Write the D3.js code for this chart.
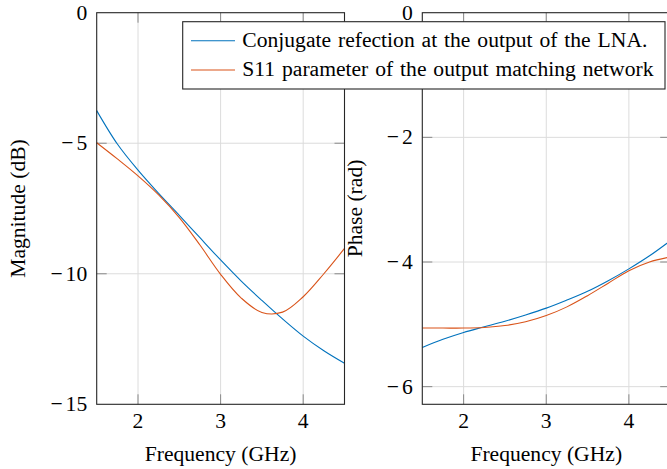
<!DOCTYPE html>
<html>
<head>
<meta charset="utf-8">
<script src="https://cdn.jsdelivr.net/npm/d3@7"></script>
<style>
  html, body { margin: 0; padding: 0; background: #fff; }
  svg { display: block; }
  text { font-family: "Liberation Serif", "Times New Roman", serif; fill: #000; }
</style>
</head>
<body>
<svg id="chart" width="667" height="469"></svg>
<script>
// ---- data ----
const freq = [1.5, 1.75, 2.0, 2.25, 2.5, 2.75, 3.0, 3.25, 3.5, 3.75, 4.0, 4.25, 4.5];
const magConj = [-3.75, -5.03, -6.03, -6.92, -7.76, -8.62, -9.47, -10.28, -11.02, -11.73, -12.39, -12.95, -13.43];
const magS11  = [-4.98, -5.6, -6.25, -6.98, -7.85, -8.9, -10.02, -10.93, -11.48, -11.47, -10.88, -10.0, -9.03];
const phaseConj = [-5.37, -5.24, -5.13, -5.04, -4.95, -4.85, -4.74, -4.61, -4.47, -4.3, -4.11, -3.9, -3.66];
const phaseS11  = [-5.06, -5.06, -5.06, -5.05, -5.02, -4.96, -4.86, -4.72, -4.54, -4.34, -4.14, -4.0, -3.92];
const xTicks = [2, 3, 4];
const magTicks = [0, -5, -10, -15];
const phaseTicks = [0, -2, -4, -6];
const seriesNames = ["Conjugate refection at the output of the LNA.", "S11 parameter of the output matching network"];
const colors = ["#0072bd", "#d95319"];

const svg = d3.select("#chart");
const FONT = 21.6;
const plotTop = 12.7, plotBottom = 404.3;

function panel(x0, x1, yDomain, yTicks, series, ylabel, ylabelX) {
  const x = d3.scaleLinear().domain([1.5, 4.5]).range([x0, x1]);
  const y = d3.scaleLinear().domain(yDomain).range([plotBottom, plotTop]);
  const g = svg.append("g");
  const innerY = yTicks.filter(d => d > yDomain[0] && d < yDomain[1]);
  // grid
  g.selectAll(".gx").data(xTicks).join("line")
    .attr("x1", d => x(d)).attr("x2", d => x(d)).attr("y1", plotTop).attr("y2", plotBottom)
    .attr("stroke", "#dcdcdc").attr("stroke-width", 1);
  g.selectAll(".gy").data(innerY).join("line")
    .attr("x1", x0).attr("x2", x1).attr("y1", d => y(d)).attr("y2", d => y(d))
    .attr("stroke", "#dcdcdc").attr("stroke-width", 1);
  // inner ticks on all sides
  const tl = 10;
  xTicks.forEach(t => {
    g.append("line").attr("x1", x(t)).attr("x2", x(t)).attr("y1", plotBottom).attr("y2", plotBottom - tl)
      .attr("stroke", "#8a8a8a").attr("stroke-width", 1);
    g.append("line").attr("x1", x(t)).attr("x2", x(t)).attr("y1", plotTop).attr("y2", plotTop + tl)
      .attr("stroke", "#8a8a8a").attr("stroke-width", 1);
  });
  innerY.forEach(t => {
    g.append("line").attr("x1", x0).attr("x2", x0 + tl).attr("y1", y(t)).attr("y2", y(t))
      .attr("stroke", "#8a8a8a").attr("stroke-width", 1);
    g.append("line").attr("x1", x1).attr("x2", x1 - tl).attr("y1", y(t)).attr("y2", y(t))
      .attr("stroke", "#8a8a8a").attr("stroke-width", 1);
  });
  // curves
  const line = d3.line().x((d, i) => x(freq[i])).y(d => y(d)).curve(d3.curveCatmullRom.alpha(0.5));
  series.forEach((s, k) => {
    g.append("path").attr("d", line(s)).attr("fill", "none")
      .attr("stroke", colors[k]).attr("stroke-width", 1.1);
  });
  // frame
  g.append("rect").attr("x", x0).attr("y", plotTop).attr("width", x1 - x0).attr("height", plotBottom - plotTop)
    .attr("fill", "none").attr("stroke", "#262626").attr("stroke-width", 1.1);
  // tick labels
  g.selectAll(".xl").data(xTicks).join("text")
    .attr("x", d => x(d)).attr("y", plotBottom + 24).attr("text-anchor", "middle")
    .attr("font-size", FONT).text(d => d);
  const yl = g.selectAll(".yl").data(yTicks).join("text")
    .attr("x", x0 - 9.5).attr("y", d => y(d)).attr("dy", "0.33em").attr("text-anchor", "end")
    .attr("font-size", FONT);
  yl.each(function(d) {
    const t = d3.select(this);
    if (d < 0) {
      t.append("tspan").text("\u2212");
      t.append("tspan").attr("dx", 3).text(Math.abs(d));
    } else {
      t.text(d);
    }
  });
  // axis labels
  g.append("text").attr("x", (x0 + x1) / 2).attr("y", 461).attr("text-anchor", "middle")
    .attr("font-size", FONT).text("Frequency (GHz)");
  g.append("text").attr("transform", `translate(${ylabelX},${(plotTop + plotBottom) / 2}) rotate(-90)`)
    .attr("text-anchor", "middle").attr("font-size", FONT).text(ylabel);
}

panel(96.7, 344.5, [-15, 0], magTicks, [magConj, magS11], "Magnitude (dB)", 24.5);
panel(422.3, 670.2, [-2 * Math.PI, 0], phaseTicks, [phaseConj, phaseS11], "Phase (rad)", 361.5);

// legend
const lg = svg.append("g");
lg.append("rect").attr("x", 182.7).attr("y", 21.7).attr("width", 665 - 182.7).attr("height", 89 - 21.7)
  .attr("fill", "#fff").attr("stroke", "#262626").attr("stroke-width", 1.1);
seriesNames.forEach((name, k) => {
  const yy = 40.7 + k * 29.3;
  lg.append("line").attr("x1", 191).attr("x2", 235).attr("y1", yy).attr("y2", yy)
    .attr("stroke", colors[k]).attr("stroke-width", 1.1);
  lg.append("text").attr("x", 242.3).attr("y", 46.7 + k * 29.3).attr("font-size", FONT)
    .attr("word-spacing", 1.5).text(name);
});
</script>
</body>
</html>
